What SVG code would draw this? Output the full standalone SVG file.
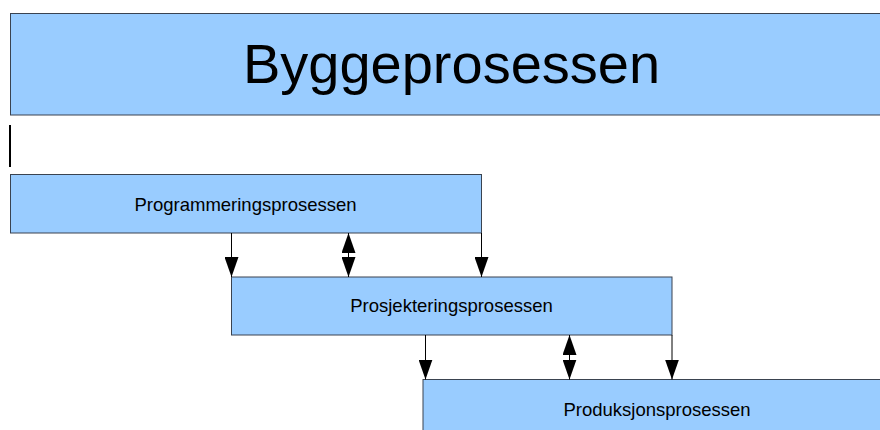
<svg xmlns="http://www.w3.org/2000/svg" width="880" height="430" viewBox="0 0 880 430">
  <style>
    .box { fill: #99ccff; stroke: #3a4350; stroke-width: 1; }
    .label { font-family: "Liberation Sans", Arial, sans-serif; fill: #000; text-anchor: middle; }
    .small { font-size: 18.5px; }
    .title { font-size: 56px; }
    .link { stroke: #000; stroke-width: 1; fill: none; }
  </style>
  <defs>
    <marker id="head" markerUnits="userSpaceOnUse" markerWidth="20" markerHeight="14" refX="20" refY="7" orient="auto-start-reverse">
      <path d="M0,0 L20,7 L0,14 z" fill="#000"/>
    </marker>
  </defs>

  <rect width="880" height="430" fill="#fff"/>

  <g id="byggeprosessen">
    <rect class="box" x="10.5" y="13.5" width="880" height="101.5"/>
    <text class="label title" x="451.5" y="83.3">Byggeprosessen</text>
  </g>

  <!-- text cursor mark -->
  <line x1="10" y1="125" x2="10" y2="167" stroke="#000" stroke-width="2"/>

  <g id="programmeringsprosessen">
    <rect class="box" x="10.5" y="174.5" width="471" height="58.5"/>
    <text class="label small" x="245.5" y="211">Programmeringsprosessen</text>
  </g>

  <g id="prosjekteringsprosessen">
    <rect class="box" x="231.5" y="277" width="440.5" height="58"/>
    <text class="label small" x="451.5" y="311.7">Prosjekteringsprosessen</text>
  </g>

  <g id="produksjonsprosessen">
    <rect class="box" x="423" y="379.5" width="480" height="80"/>
    <text class="label small" x="657" y="415.7">Produksjonsprosessen</text>
  </g>

  <g id="connectors">
    <line class="link" x1="231.5" y1="233" x2="231.5" y2="277" marker-end="url(#head)"/>
    <line class="link" x1="481.5" y1="233" x2="481.5" y2="277" marker-end="url(#head)"/>
    <line class="link" x1="348.5" y1="233" x2="348.5" y2="277" marker-start="url(#head)" marker-end="url(#head)"/>

    <line class="link" x1="425.5" y1="335" x2="425.5" y2="379.5" marker-end="url(#head)"/>
    <line class="link" x1="672" y1="335" x2="672" y2="379.5" marker-end="url(#head)"/>
    <line class="link" x1="569.5" y1="335" x2="569.5" y2="379.5" marker-start="url(#head)" marker-end="url(#head)"/>
  </g>
</svg>
